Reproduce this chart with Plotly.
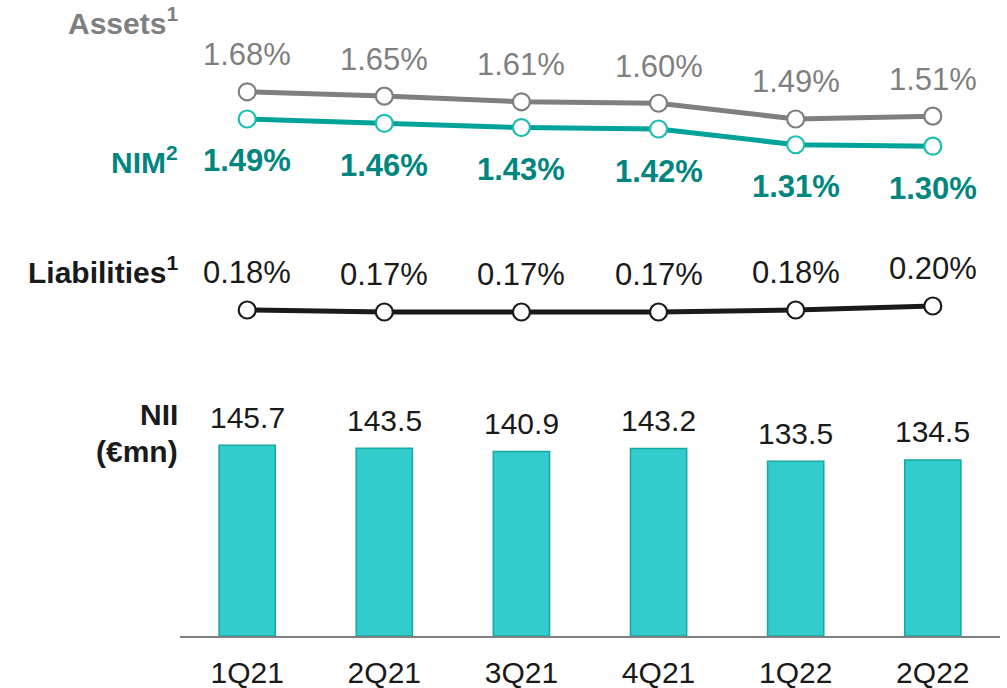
import plotly.graph_objects as go

quarters = ["1Q21", "2Q21", "3Q21", "4Q21", "1Q22", "2Q22"]
assets = [1.68, 1.65, 1.61, 1.60, 1.49, 1.51]
nim = [1.49, 1.46, 1.43, 1.42, 1.31, 1.30]
liabilities = [0.18, 0.17, 0.17, 0.17, 0.18, 0.20]
nii = [145.7, 143.5, 140.9, 143.2, 133.5, 134.5]

FONT = "Liberation Sans, Arial, sans-serif"
GRAY = "#7F7F7F"
TEAL_LINE = "#00A399"
TEAL_MARK = "#1CBDB2"
TEAL_TEXT = "#00867F"
BLACK = "#1A1A1A"
BAR_FILL = "#33CCCC"
BAR_EDGE = "#16A89E"

fig = go.Figure()

fig.add_trace(go.Bar(
    x=quarters, y=nii, width=0.41,
    marker=dict(color=BAR_FILL, line=dict(color=BAR_EDGE, width=1.5)),
    yaxis="y", hoverinfo="skip", showlegend=False,
))

def line(vals, lc, mc, axis):
    fig.add_trace(go.Scatter(
        x=quarters, y=vals, mode="lines+markers", yaxis=axis,
        line=dict(color=lc, width=5),
        marker=dict(size=17, color="white", line=dict(color=mc, width=2.2)),
        hoverinfo="skip", showlegend=False,
    ))

line(assets, GRAY, GRAY, "y2")
line(nim, TEAL_LINE, TEAL_MARK, "y2")
line(liabilities, BLACK, BLACK, "y3")

ann = []
for q, v in zip(quarters, assets):
    ann.append(dict(x=q, y=v, xref="x", yref="y2", text=f"{v:.2f}%", showarrow=False,
                    yshift=37, font=dict(family=FONT, size=31, color=GRAY)))
for q, v in zip(quarters, nim):
    ann.append(dict(x=q, y=v, xref="x", yref="y2", text=f"<b>{v:.2f}%</b>", showarrow=False,
                    yshift=-42, font=dict(family=FONT, size=31, color=TEAL_TEXT)))
for q, v in zip(quarters, liabilities):
    ann.append(dict(x=q, y=v, xref="x", yref="y3", text=f"{v:.2f}%", showarrow=False,
                    yshift=38, font=dict(family=FONT, size=31, color=BLACK)))
for q, v in zip(quarters, nii):
    ann.append(dict(x=q, y=v, xref="x", yref="y", text=f"{v:.1f}", showarrow=False,
                    yshift=28, font=dict(family=FONT, size=30, color=BLACK)))

def side(text, ypx, color):
    ann.append(dict(x=0, xref="paper", xanchor="right", y=1 - ypx / 636, yref="paper",
                    yanchor="middle", text=text, showarrow=False,
                    font=dict(family=FONT, size=30, color=color)))

side("<b>Assets<sup>1</sup></b>", 21, GRAY)
side("<b>NIM<sup>2</sup></b>", 160, TEAL_TEXT)
side("<b>Liabilities<sup>1</sup></b>", 270, BLACK)
side("<b>NII</b>", 414, BLACK)
side("<b>(€mn)</b>", 452, BLACK)

fig.update_layout(
    width=1007, height=688,
    margin=dict(l=180, r=7, t=0, b=52),
    paper_bgcolor="white", plot_bgcolor="white",
    font=dict(family=FONT, size=30, color=BLACK),
    annotations=ann,
    xaxis=dict(type="category", range=[-0.49, 5.49], showline=True, linecolor="#808080",
               linewidth=2, showgrid=False, ticks="outside", ticklen=9, tickcolor="rgba(0,0,0,0)",
               automargin=False,
               tickfont=dict(family=FONT, size=30, color=BLACK), fixedrange=True),
    yaxis=dict(range=[0, 486], visible=False, showgrid=False),
    yaxis2=dict(range=[-2.125, 2.322], overlaying="y", visible=False, showgrid=False),
    yaxis3=dict(range=[-1.45, 1.73], overlaying="y", visible=False, showgrid=False),
)

fig.write_html("out.html", config={"displayModeBar": False},
               post_script="document.body.style.margin='0';document.body.style.overflow='hidden';")
